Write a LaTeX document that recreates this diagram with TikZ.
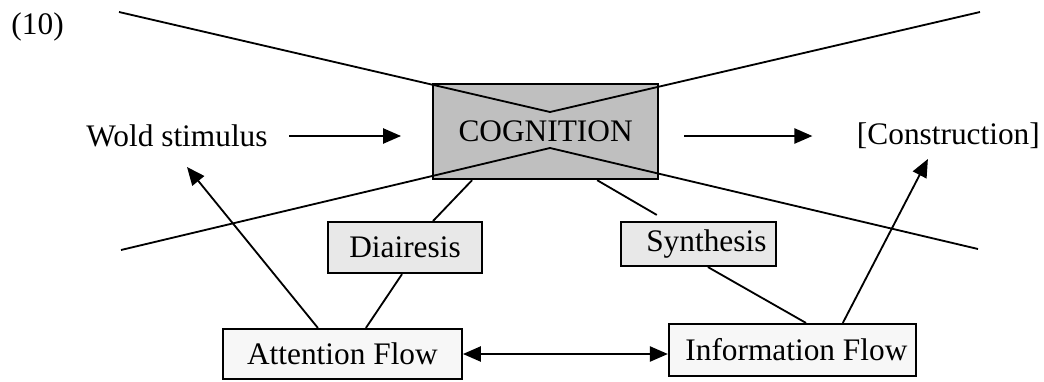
\documentclass[tikz,border=0pt]{standalone}
\usepackage{fontspec}
\setmainfont{Liberation Serif}
\usetikzlibrary{arrows.meta}

\begin{document}
\begin{tikzpicture}[
    font=\fontsize{22.3pt}{26pt}\selectfont,
    line width=1.3pt,
    box/.style={draw, line width=1.5pt, inner sep=0pt},
    cogbox/.style={box, fill=black!25},
    subbox/.style={box, fill=black!9},
    flowbox/.style={box, fill=black!3},
    arr/.style={-{Triangle[length=0.45cm,width=0.38cm]}},
    dblarr/.style={{Triangle[length=0.45cm,width=0.38cm]}-{Triangle[length=0.45cm,width=0.38cm]}}
  ]
    \useasboundingbox (0,0) rectangle (26.1,-9.525);

    \draw
    (0.94, -0.675) node(num){(10)}
    (4.425, -3.4) node(wold){Wold stimulus}
    (23.71, -3.4) node(constr){[Construction]}
    (13.64, -3.29) node[cogbox, minimum width=5.625cm, minimum height=2.375cm](cog){COGNITION}
    (10.125, -6.19) node[subbox, minimum width=3.85cm, minimum height=1.275cm](diai){Diairesis}
    (17.46, -6.1) node[subbox, minimum width=3.875cm, minimum height=1.1cm](synth){\hspace{0.4cm}Synthesis}
    (8.56, -8.85) node[flowbox, minimum width=5.975cm, minimum height=1.25cm](att){Attention Flow}
    (19.81, -8.75) node[flowbox, minimum width=6.175cm, minimum height=1.3cm](info){\hspace{0.2cm}Information Flow};

    % the broken cross over the box
    \coordinate (tl) at (2.975, -0.3);
    \coordinate (tr) at (24.5, -0.3);
    \coordinate (bl) at (3.025, -6.25);
    \coordinate (br) at (24.45, -6.225);
    \coordinate (apexT) at (13.75, -2.8);
    \coordinate (apexB) at (13.75, -3.7);

    \draw[-] (tl) -- (apexT) -- (tr);
    \draw[-] (bl) -- (apexB) -- (br);

    \draw[arr, shorten <=0.4cm, shorten >=0.775cm] (wold.east) -- (wold.east -| cog.west);
    \draw[arr, shorten <=0.625cm, shorten >=0.975cm] (cog.east |- constr.west) -- (constr.west);
    \draw[arr] ([xshift=-0.6125cm]att.north) -- ([shift={(0.25,-0.775)}]wold.center);
    \draw[arr] ([xshift=1.26cm]info.north) -- ([shift={(-0.5125,-0.575)}]constr.center);
    \draw[dblarr] (att.east) -- (att.east -| info.west);

    \draw[-] ([xshift=-1.8375cm]cog.south) -- ([xshift=0.7cm]diai.north);
    \draw[-] ([xshift=1.2875cm]cog.south) -- ([shift={(-1.04,0.15)}]synth.north);
    \draw[-] ([xshift=-0.075cm]diai.south) -- ([xshift=0.5875cm]att.north);
    \draw[-] ([xshift=0.2375cm]synth.south) -- ([xshift=0.34cm]info.north);

  \end{tikzpicture}
\end{document}
